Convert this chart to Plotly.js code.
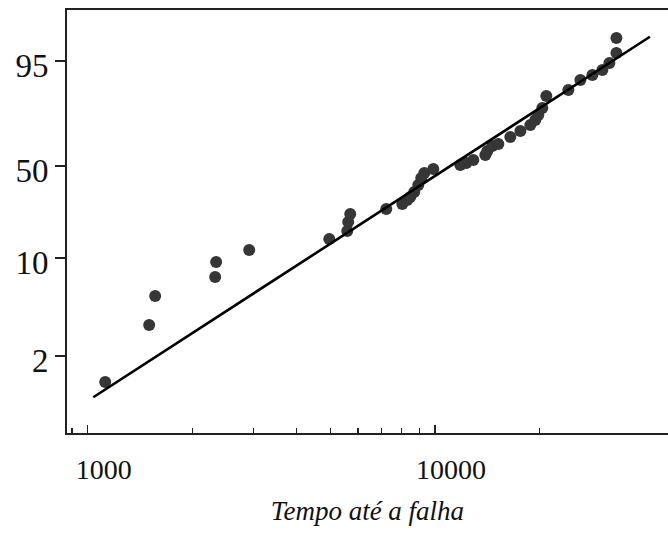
<!DOCTYPE html>
<html>
<head>
<meta charset="utf-8">
<script src="https://cdn.plot.ly/plotly-3.0.1.min.js"></script>
<style>
  html, body { margin: 0; padding: 0; background: #fff; }
  #chart { width: 668px; height: 542px; }
</style>
</head>
<body>
<div id="chart"></div>
<script>
// Failure times (hours)
const failTime = [1122, 1502, 1563, 2327, 2342, 2916, 4960, 5588, 5624, 5700,
                  7239, 8051, 8321, 8487, 8715, 8951, 9131, 9316, 9888, 11827,
                  12310, 12895, 13964, 14150, 14627, 15221, 16482, 17616, 18820, 19454,
                  19846, 20378, 20925, 24222, 26227, 28404, 30350, 31793, 33310, 33310];
// Plotting position on the probability-paper scale (2% -> 0, 10% -> 1)
const probScale = [-0.265, 0.316, 0.612, 0.806, 0.959, 1.082, 1.194, 1.276, 1.367, 1.449,
                   1.500, 1.551, 1.592, 1.622, 1.673, 1.745, 1.816, 1.867, 1.908, 1.949,
                   1.969, 2.000, 2.051, 2.092, 2.143, 2.163, 2.235, 2.296, 2.357, 2.408,
                   2.459, 2.531, 2.653, 2.714, 2.816, 2.867, 2.918, 2.990, 3.092, 3.245];
// Fitted line end points
const fitTime = [1037, 41600];
const fitScale = [-0.421, 3.258];
// Probability-paper tick labels (percent) and their scale values
const yTickText = ['2', '10', '50', '95'];
const yTickVals = [0, 1, 1.939, 3.010];
// X ticks
const xMajor = [1000, 10000];
const xMajorText = ['1000', '10000'];
const xMinor = [900, 2000, 3000, 4000, 5000, 6000, 7000, 8000, 9000, 20000];

const serif = 'Liberation Serif, Times New Roman, serif';

const traces = [
  {
    x: failTime, y: probScale, type: 'scatter', mode: 'markers',
    marker: { size: 12, color: '#363636', line: { width: 0 } },
    hoverinfo: 'x+y', showlegend: false
  },
  {
    x: fitTime, y: fitScale, type: 'scatter', mode: 'lines',
    line: { color: '#000000', width: 2.6 },
    hoverinfo: 'skip', showlegend: false
  }
];

const layout = {
  width: 668, height: 542,
  margin: { l: 67, r: 0, t: 10, b: 109, pad: 0 },
  paper_bgcolor: '#ffffff', plot_bgcolor: '#ffffff',
  showlegend: false,
  xaxis: {
    type: 'log',
    range: [Math.log10(871), Math.log10(46900)],
    tickmode: 'array', tickvals: xMajor, ticktext: xMajorText,
    ticks: 'inside', ticklen: 8, tickwidth: 1.2, tickcolor: '#222',
    minor: { tickmode: 'array', tickvals: xMinor, ticks: 'inside', ticklen: 5, tickwidth: 1.2, tickcolor: '#222', showgrid: false },
    showgrid: false, zeroline: false,
    showline: true, linecolor: '#222', linewidth: 2, mirror: true,
    tickfont: { family: serif, size: 28, color: '#111' },
    ticklabelshift: 16, ticklabelstandoff: 10,
    title: { text: '<i>Tempo até a falha</i>', font: { family: serif, size: 27, color: '#111' }, standoff: 18 }
  },
  yaxis: {
    range: [-0.786, 3.531],
    tickmode: 'array', tickvals: yTickVals, ticktext: yTickText,
    ticks: 'outside', ticklen: 10, tickwidth: 1.2, tickcolor: '#222',
    showgrid: false, zeroline: false,
    showline: true, linecolor: '#222', linewidth: 2, mirror: false,
    tickfont: { family: serif, size: 33, color: '#111' },
    ticklabelshift: 4
  }
};

Plotly.newPlot('chart', traces, layout, { displayModeBar: false, staticPlot: true });
</script>
</body>
</html>
